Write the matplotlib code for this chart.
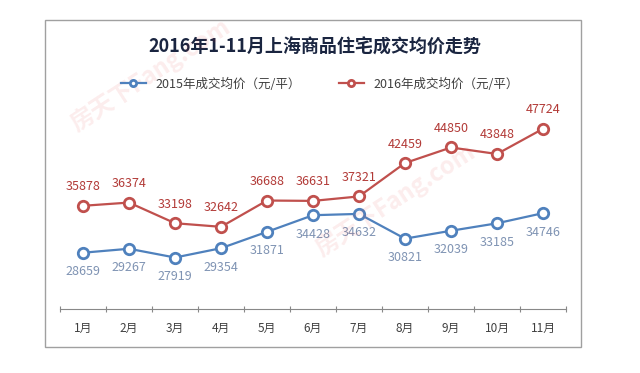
import matplotlib
matplotlib.use("Agg")
from matplotlib import pyplot as plt
from matplotlib.patches import Rectangle

plt.rcParams['font.family'] = ['Noto Sans CJK SC', 'DejaVu Sans']

months = ['1月', '2月', '3月', '4月', '5月', '6月', '7月', '8月', '9月', '10月', '11月']
price_2015 = [28659, 29267, 27919, 29354, 31871, 34428, 34632, 30821, 32039, 33185, 34746]
price_2016 = [35878, 36374, 33198, 32642, 36688, 36631, 37321, 42459, 44850, 43848, 47724]

blue = '#4f81bd'
red = '#c0504d'

fig = plt.figure(figsize=(6.4, 3.73), dpi=100)
ax = fig.add_axes([60/640, 1 - 309/373, 506/640, 195/373])

x = list(range(len(months)))
ax.plot(x, price_2015, color=blue, lw=1.6, marker='o', ms=7.5, mfc='white', mec=blue, mew=2,
        label='2015年成交均价（元/平）')
ax.plot(x, price_2016, color=red, lw=1.6, marker='o', ms=7.5, mfc='white', mec=red, mew=2,
        label='2016年成交均价（元/平）')

# value labels
for i, v in enumerate(price_2015):
    ax.annotate(str(v), (i, v), xytext=(0, -9), textcoords='offset points',
                ha='center', va='top', fontsize=9, color='#7f93b3')
for i, v in enumerate(price_2016):
    ax.annotate(str(v), (i, v), xytext=(0, 9), textcoords='offset points',
                ha='center', va='bottom', fontsize=9, color='#b23a37')

ax.set_xlim(-0.5, 10.5)
ax.set_ylim(20000, 50000)
ax.set_xticks([i - 0.5 for i in range(12)], minor=False)
ax.set_xticklabels([])
ax.set_xticks(x, minor=True)
ax.set_xticklabels(months, minor=True)
ax.tick_params(axis='x', which='major', length=4, direction='inout', color='#888888')
ax.tick_params(axis='x', which='minor', length=0, labelsize=8.5, labelcolor='#404040', pad=9)
ax.set_yticks([])
for s in ['top', 'right', 'left']:
    ax.spines[s].set_visible(False)
ax.spines['bottom'].set_color('#888888')

fig.text(315/640, 1 - 47/373, '2016年1-11月上海商品住宅成交均价走势', ha='center', va='center',
         fontsize=13, fontweight='bold', color='#1a2540')

fig.legend(loc='center', bbox_to_anchor=(320/640, 1 - 84/373), ncol=2, frameon=False,
           fontsize=9, handlelength=2, columnspacing=3, labelcolor='#404040',
           markerscale=0.6)

# watermark
fig.text(150/640, 1 - 75/373, '房天下Fang.com', rotation=33, ha='center', va='center',
         fontsize=17, color='#e03030', alpha=0.09, fontweight='bold')
fig.text(395/640, 1 - 200/373, '房天下Fang.com', rotation=33, ha='center', va='center',
         fontsize=17, color='#e03030', alpha=0.09, fontweight='bold')

fig.patches.append(Rectangle((45/640, 1 - 347/373), 536/640, 327/373, transform=fig.transFigure,
                             fill=False, edgecolor='#a0a0a0', lw=1))

fig.savefig('out.png', dpi=100, facecolor='white')
